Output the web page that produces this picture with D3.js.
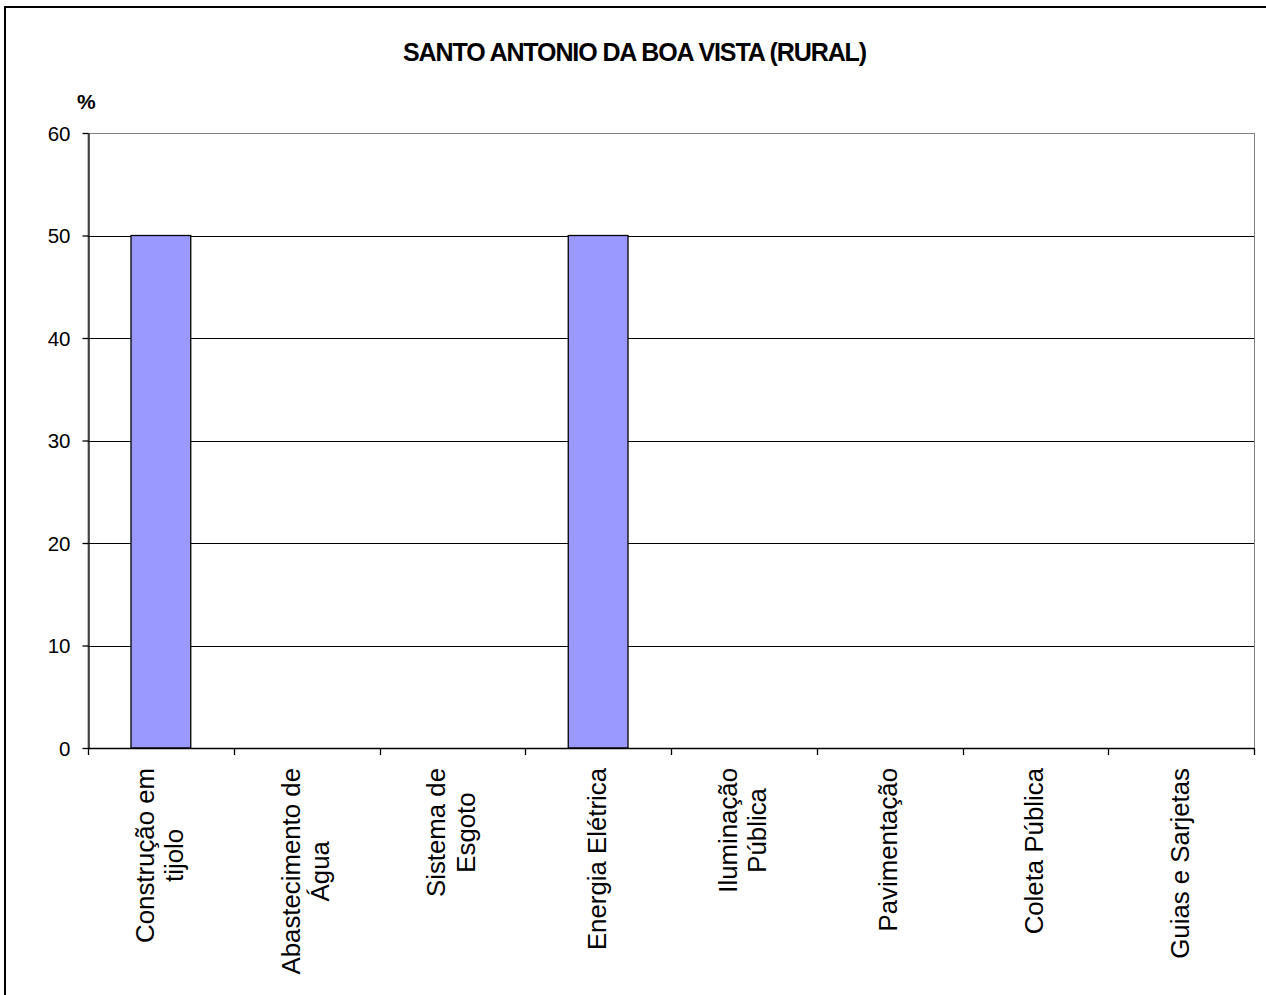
<!DOCTYPE html>
<html>
<head>
<meta charset="utf-8">
<script src="https://cdn.jsdelivr.net/npm/d3@7"></script>
<style>
  html, body { margin: 0; padding: 0; background: #fff; }
  svg { display: block; font-family: Arial, "Liberation Sans", sans-serif; }
</style>
</head>
<body>
<svg id="chart" width="1266" height="995"></svg>
<script>
const title = "SANTO ANTONIO DA BOA VISTA (RURAL)";
const yUnit = "%";
const categories = [
  ["Construção em", "tijolo"],
  ["Abastecimento de", "Água"],
  ["Sistema de", "Esgoto"],
  ["Energia Elétrica"],
  ["Iluminação", "Pública"],
  ["Pavimentação"],
  ["Coleta Pública"],
  ["Guias e Sarjetas"]
];
const values = [50, 0, 0, 50, 0, 0, 0, 0];
const yTicks = [0, 10, 20, 30, 40, 50, 60];

const svg = d3.select("#chart");
const plot = { left: 88, right: 1254, top: 133, bottom: 748 };

// outer chart border (only left & top visible in frame)
svg.append("rect")
  .attr("x", 5).attr("y", 7)
  .attr("width", 1300).attr("height", 1100)
  .attr("fill", "none").attr("stroke", "#000").attr("stroke-width", 2);

const keys = categories.map(d => d.join(" "));
const x = d3.scaleBand().domain(keys).range([plot.left, plot.right]).padding(0);
const y = d3.scaleLinear().domain([0, 60]).range([plot.bottom, plot.top]);

// plot area border (gray)
svg.append("rect")
  .attr("x", plot.left).attr("y", plot.top + 0.5)
  .attr("width", plot.right - plot.left + 0.5).attr("height", plot.bottom - plot.top)
  .attr("fill", "none").attr("stroke", "#808080").attr("stroke-width", 1);

// gridlines
svg.append("g").selectAll("line")
  .data(yTicks.filter(t => t > 0 && t < 60))
  .join("line")
  .attr("x1", plot.left).attr("x2", plot.right)
  .attr("y1", d => Math.round(y(d)) + 0.5).attr("y2", d => Math.round(y(d)) + 0.5)
  .attr("stroke", "#000").attr("stroke-width", 1);

// bars
const barW = x.bandwidth() * 0.41;
svg.append("g").selectAll("rect")
  .data(values.map((v, i) => ({ k: keys[i], v })).filter(d => d.v > 0))
  .join("rect")
  .attr("x", d => x(d.k) + (x.bandwidth() - barW) / 2)
  .attr("y", d => y(d.v))
  .attr("width", barW)
  .attr("height", d => y(0) - y(d.v))
  .attr("fill", "#9999FF")
  .attr("stroke", "#000").attr("stroke-width", 1.3);

// y axis
const yAxis = d3.axisLeft(y).tickValues(yTicks).tickSize(6).tickPadding(12).tickSizeOuter(0);
const gy = svg.append("g").attr("transform", `translate(${plot.left + 0.5},0)`).call(yAxis);
gy.select(".domain").attr("stroke", "#000").attr("stroke-width", 1.3);
gy.selectAll(".tick line").attr("stroke", "#000").attr("stroke-width", 1.3);
gy.selectAll(".tick text")
  .attr("font-family", "Arial, 'Liberation Sans', sans-serif")
  .attr("font-size", 20.5).attr("fill", "#000").attr("dy", "0.36em");

// x axis
const xAxisLine = svg.append("g");
xAxisLine.append("line")
  .attr("x1", plot.left).attr("x2", plot.right + 0.5)
  .attr("y1", plot.bottom + 0.5).attr("y2", plot.bottom + 0.5)
  .attr("stroke", "#000").attr("stroke-width", 1.3);
const bounds = keys.map(k => x(k)).concat([plot.right]);
xAxisLine.selectAll("line.tk").data(bounds).join("line").attr("class", "tk")
  .attr("x1", d => Math.round(d) + 0.5).attr("x2", d => Math.round(d) + 0.5)
  .attr("y1", plot.bottom).attr("y2", plot.bottom + 7)
  .attr("stroke", "#000").attr("stroke-width", 1.3);

// category labels (rotated, top aligned, lines centered)
const fs = 25.8, lh = 29.5;
categories.forEach((lines, i) => {
  const cx = x(keys[i]) + x.bandwidth() / 2;
  const g = svg.append("g").attr("transform", `translate(${cx},768) rotate(-90)`);
  const texts = lines.map((ln, j) => g.append("text")
    .attr("font-size", fs).attr("fill", "#000")
    .attr("text-anchor", "middle")
    .attr("y", (j - (lines.length - 1) / 2) * lh + 0.3 * fs)
    .text(ln));
  const maxLen = d3.max(texts, t => t.node().getComputedTextLength());
  texts.forEach(t => t.attr("x", -maxLen / 2));
});

// title
svg.append("text")
  .attr("x", 634.5).attr("y", 61)
  .attr("text-anchor", "middle")
  .attr("font-size", 25).attr("font-weight", "bold")
  .attr("letter-spacing", "-1.1px")
  .text(title);

// y unit
svg.append("text")
  .attr("x", 77).attr("y", 109)
  .attr("font-size", 21).attr("font-weight", "bold")
  .text(yUnit);
</script>
</body>
</html>
